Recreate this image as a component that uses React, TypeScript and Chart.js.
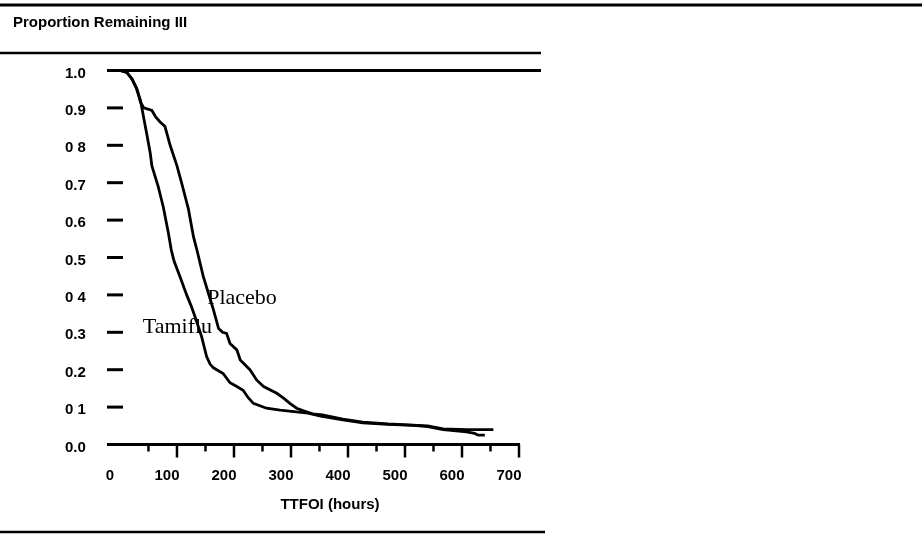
import { useEffect, useRef } from "react";
import { Chart, registerables } from "chart.js";

Chart.register(...registerables);

// ---- data (hours, proportion remaining) ----
const tamifluHours = [0, 12, 20, 28, 36, 42, 47, 53, 56, 62, 67, 76, 85, 90, 95, 105, 117, 125, 132, 143, 152, 158, 164, 181, 193, 205, 216, 225, 234, 257, 281, 305, 330, 352, 391, 426, 470, 514, 540, 567, 608, 622, 628, 640];
const tamifluSurvival = [1.0, 0.995, 0.98, 0.955, 0.92, 0.87, 0.83, 0.78, 0.745, 0.715, 0.69, 0.635, 0.565, 0.52, 0.49, 0.45, 0.4, 0.37, 0.34, 0.29, 0.235, 0.215, 0.205, 0.19, 0.165, 0.155, 0.145, 0.125, 0.11, 0.097, 0.092, 0.088, 0.084, 0.076, 0.066, 0.058, 0.054, 0.051, 0.048, 0.04, 0.034, 0.03, 0.025, 0.025];

const placeboHours = [0, 12, 22, 30, 36, 42, 56, 63, 70, 79, 88, 100, 108, 120, 129, 135, 146, 155, 164, 173, 180, 187, 193, 205, 211, 228, 240, 252, 275, 287, 298, 310, 322, 338, 355, 391, 426, 470, 514, 540, 567, 608, 655];
const placeboSurvival = [1.0, 0.995, 0.975, 0.95, 0.915, 0.9, 0.893, 0.875, 0.863, 0.85, 0.8, 0.745, 0.7, 0.63, 0.555, 0.52, 0.45, 0.405, 0.36, 0.31, 0.3, 0.297, 0.27, 0.253, 0.226, 0.2, 0.172, 0.155, 0.137, 0.124, 0.11, 0.097, 0.09, 0.082, 0.079, 0.068, 0.06, 0.055, 0.052, 0.05, 0.042, 0.04, 0.04];

const xTickValues = [0, 100, 200, 300, 400, 500, 600, 700];
const xMajorMarks = [100, 200, 300, 400, 500, 600, 700];
const xMinorMarks = [50, 150, 250, 350, 450, 550, 650];
const yTickValues = [0, 0.1, 0.2, 0.3, 0.4, 0.5, 0.6, 0.7, 0.8, 0.9, 1.0];
const yTickLabels = ["0.0", "0 1", "0.2", "0.3", "0 4", "0.5", "0.6", "0.7", "0 8", "0.9", "1.0"];
const yDashValues = [0.1, 0.2, 0.3, 0.4, 0.5, 0.6, 0.7, 0.8, 0.9];

const seriesNames = ["Tamiflu", "Placebo"];
const labelAnchors = [
  { x: 40, y: 0.314 },
  { x: 153, y: 0.39 },
];
const chartTitle = "Proportion Remaining III";
const xAxisTitle = "TTFOI (hours)";

const SANS = '"Liberation Sans", Arial, Helvetica, sans-serif';
const SERIF = '"Liberation Serif", "Times New Roman", serif';

const decorPlugin = {
  id: "decor",
  beforeDraw(chart: any) {
    const ctx = chart.ctx;
    ctx.save();
    ctx.fillStyle = "#fff";
    ctx.fillRect(0, 0, chart.width, chart.height);
    ctx.restore();
  },
  afterDraw(chart: any) {
    const { ctx, chartArea, scales } = chart;
    const xs = scales.x;
    const ys = scales.y;
    ctx.save();
    ctx.strokeStyle = "#000";
    ctx.fillStyle = "#000";
    ctx.lineCap = "butt";
    const hline = (x1: number, x2: number, y: number, w: number) => {
      ctx.lineWidth = w;
      ctx.beginPath();
      ctx.moveTo(x1, y);
      ctx.lineTo(x2, y);
      ctx.stroke();
    };
    const vline = (x: number, y1: number, y2: number, w: number) => {
      ctx.lineWidth = w;
      ctx.beginPath();
      ctx.moveTo(x, y1);
      ctx.lineTo(x, y2);
      ctx.stroke();
    };
    // frame rules
    hline(0, chart.width, 5, 3);
    hline(0, 541, 53, 2.5);
    hline(0, 545, 532, 2.5);
    // top line at 1.0
    hline(chartArea.left - 1, 541, ys.getPixelForValue(1), 3);
    // y tick dashes
    yDashValues.forEach((v) => hline(chartArea.left - 1, chartArea.left + 15, ys.getPixelForValue(v), 3));
    // x tick marks
    const yb = chartArea.bottom;
    xMajorMarks.forEach((v) => vline(xs.getPixelForValue(v), yb, yb + 13, 2.5));
    xMinorMarks.forEach((v) => vline(xs.getPixelForValue(v), yb, yb + 7, 2.5));
    // texts
    ctx.textBaseline = "middle";
    ctx.textAlign = "left";
    ctx.font = `bold 15px ${SANS}`;
    ctx.fillText(chartTitle, 13, 23);
    ctx.textAlign = "center";
    ctx.font = `bold 15px ${SANS}`;
    ctx.fillText(xAxisTitle, 330, 505);
    ctx.textAlign = "left";
    ctx.font = `22px ${SERIF}`;
    seriesNames.forEach((name, i) => {
      const a = labelAnchors[i];
      ctx.fillText(name, xs.getPixelForValue(a.x), ys.getPixelForValue(a.y));
    });
    ctx.restore();
  },
};

export default function App() {
  const ref = useRef<HTMLCanvasElement | null>(null);
  useEffect(() => {
    const canvas = ref.current;
    if (!canvas) return;
    const chart = new Chart(canvas, {
      type: "line",
      data: {
        datasets: [
          {
            label: seriesNames[0],
            data: tamifluHours.map((h, i) => ({ x: h, y: tamifluSurvival[i] })),
            borderColor: "#000",
            borderWidth: 2.8,
            pointRadius: 0,
            tension: 0,
            fill: false,
          },
          {
            label: seriesNames[1],
            data: placeboHours.map((h, i) => ({ x: h, y: placeboSurvival[i] })),
            borderColor: "#000",
            borderWidth: 2.8,
            pointRadius: 0,
            tension: 0,
            fill: false,
          },
        ],
      },
      options: {
        animation: false,
        responsive: false,
        devicePixelRatio: 1,
        layout: { padding: { left: 65, right: 403, top: 70.5, bottom: 34.5 } },
        plugins: { legend: { display: false }, tooltip: { enabled: false }, title: { display: false } },
        scales: {
          x: {
            type: "linear",
            min: -21,
            max: 700,
            afterBuildTicks: (s: any) => {
              s.ticks = xTickValues.map((v) => ({ value: v }));
            },
            afterFit: (s: any) => {
              s.height = 60;
            },
            ticks: {
              padding: 22,
              labelOffset: -10,
              maxRotation: 0,
              autoSkip: false,
              color: "#000",
              font: { family: SANS, size: 15, weight: "bold" },
            },
            grid: { display: true, drawOnChartArea: false, drawTicks: false },
            border: { display: true, color: "#000", width: 3 },
          },
          y: {
            type: "linear",
            min: 0,
            max: 1,
            afterBuildTicks: (s: any) => {
              s.ticks = yTickValues.map((v) => ({ value: v }));
            },
            afterFit: (s: any) => {
              s.width = 43;
            },
            ticks: {
              padding: 0,
              crossAlign: "far",
              labelOffset: 3,
              autoSkip: false,
              color: "#000",
              font: { family: SANS, size: 15, weight: "bold" },
              callback: (_v: any, i: number) => yTickLabels[i],
            },
            grid: { display: true, drawOnChartArea: false, drawTicks: false },
            border: { display: false },
          },
        },
      } as any,
      plugins: [decorPlugin],
    });
    return () => chart.destroy();
  }, []);
  return (
    <div style={{ position: "fixed", left: 0, top: 0, width: 922, height: 539, background: "#fff" }}>
      <canvas ref={ref} width={922} height={539} style={{ width: 922, height: 539, display: "block" }} />
    </div>
  );
}
